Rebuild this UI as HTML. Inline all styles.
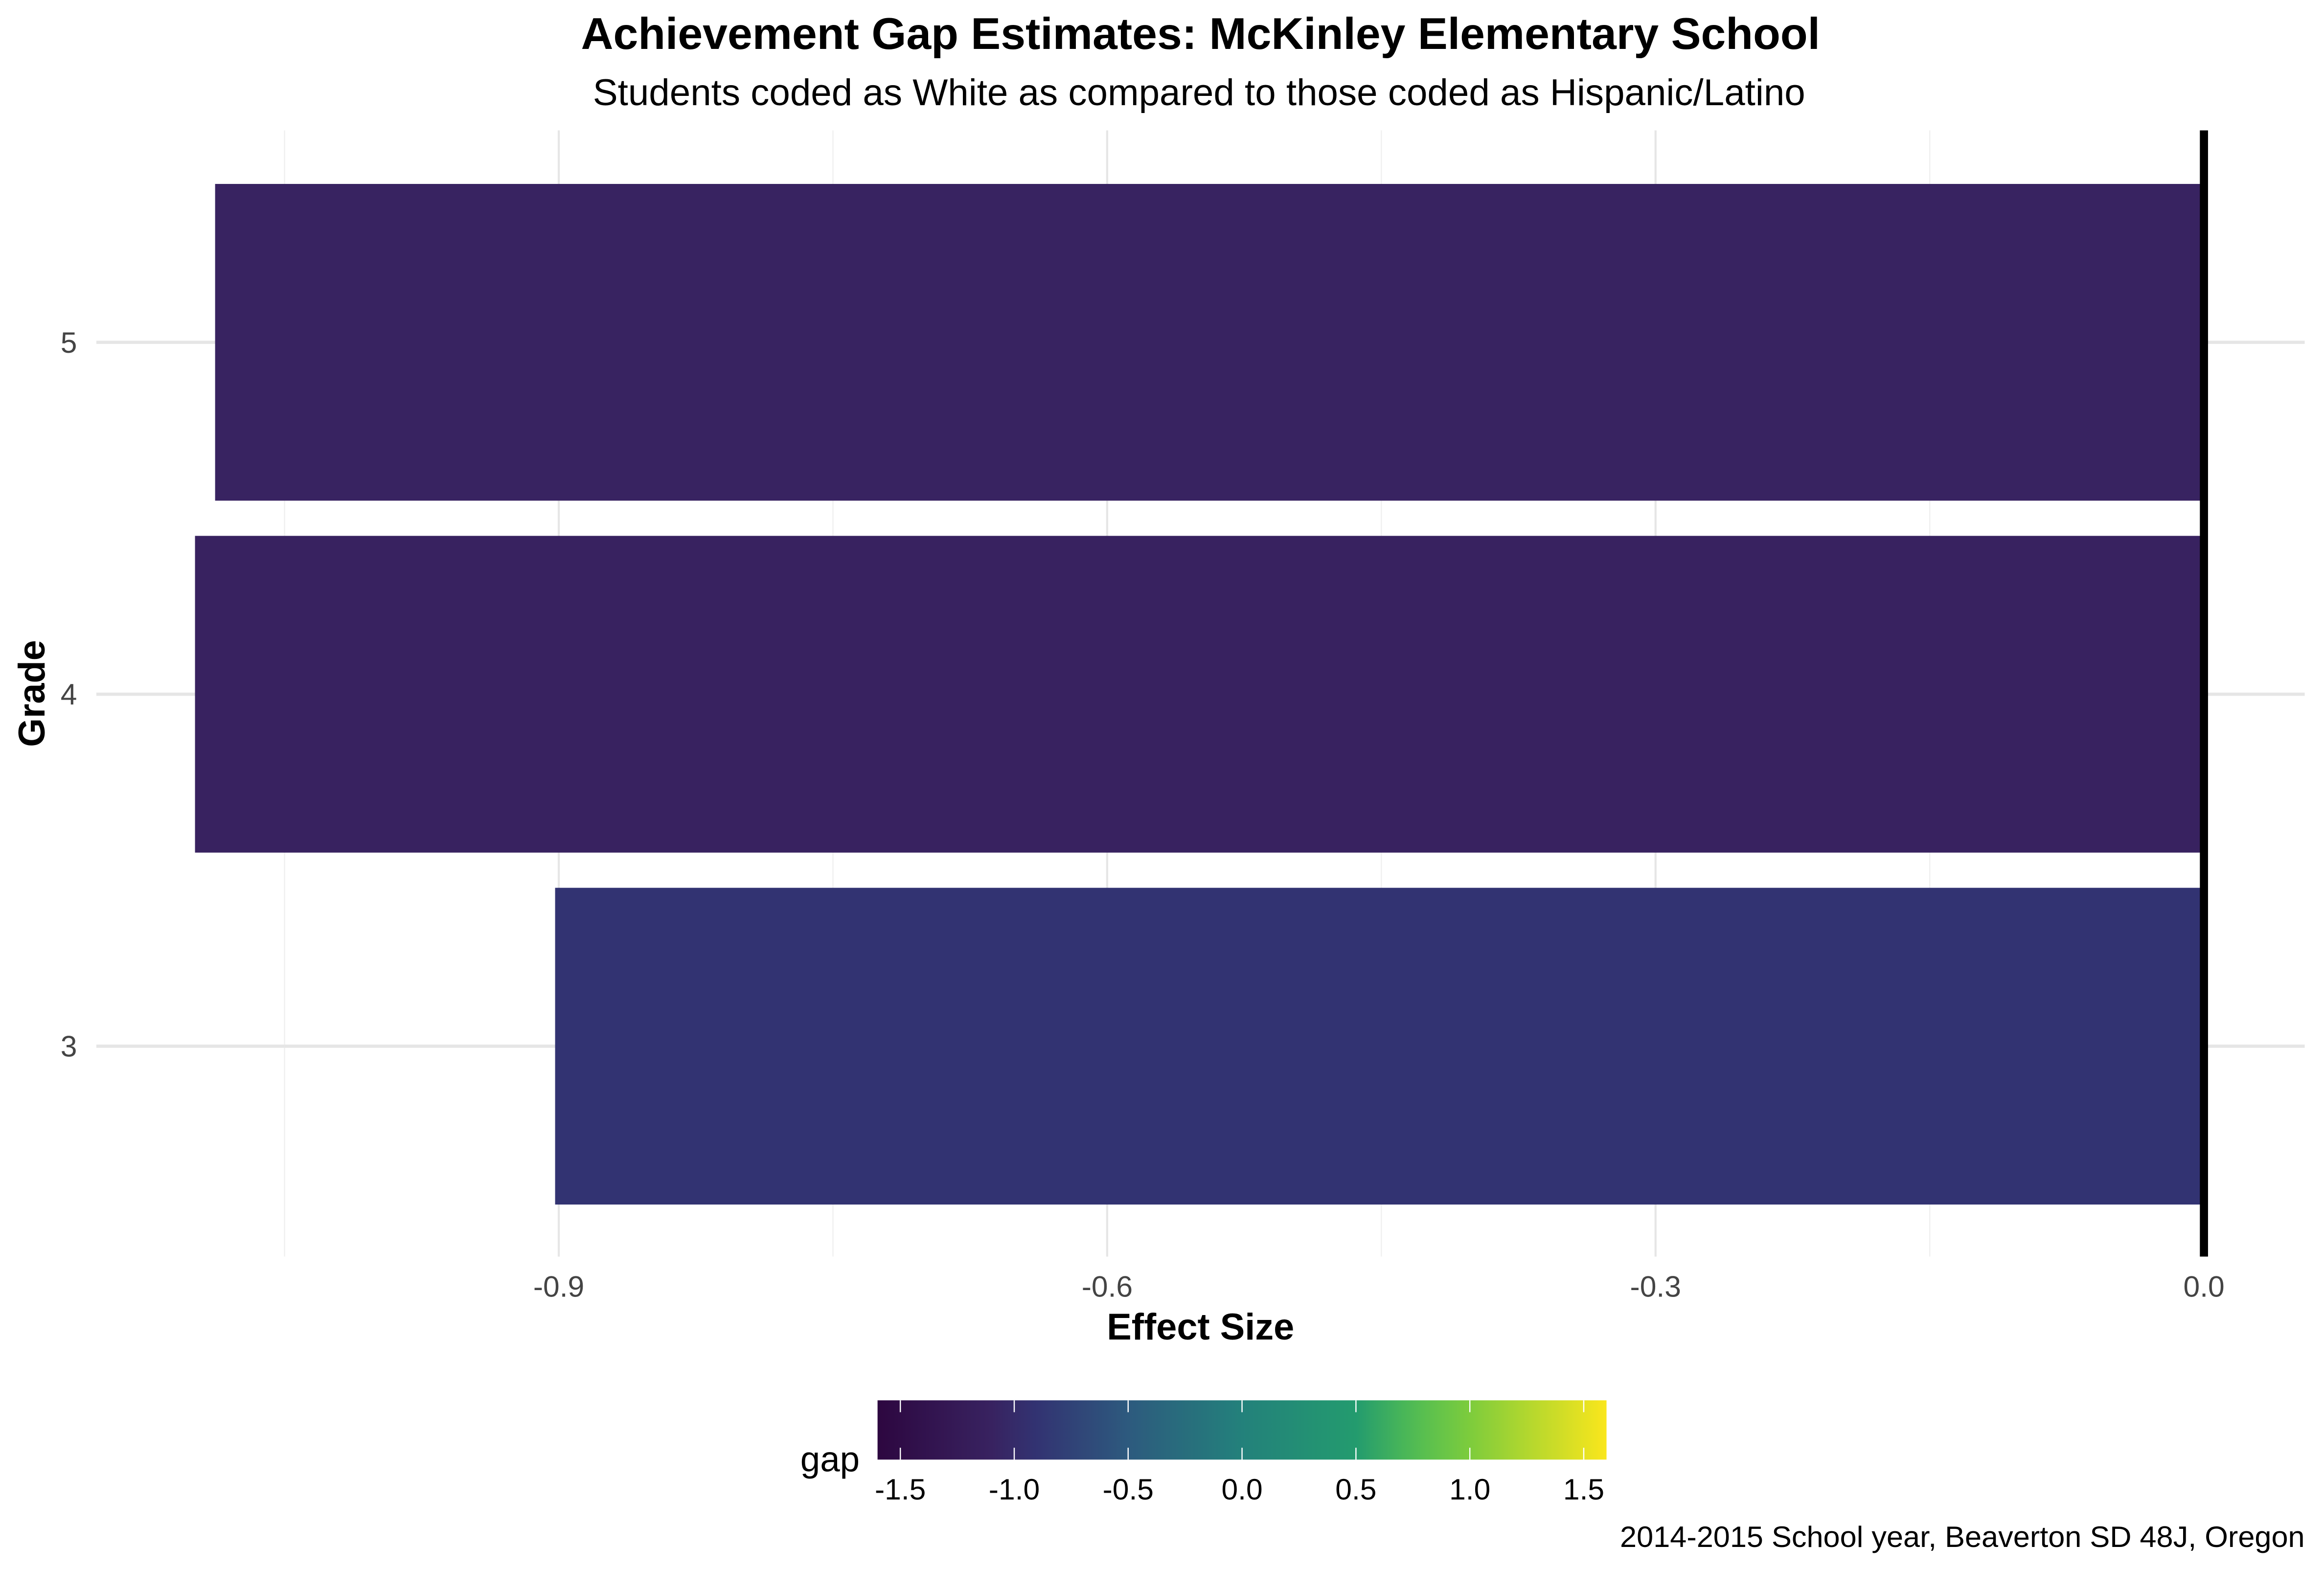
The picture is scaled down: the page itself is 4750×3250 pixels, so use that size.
<!DOCTYPE html>
<html><head><meta charset="utf-8"><style>
html,body{margin:0;padding:0;background:#fff;}
svg{display:block;font-family:"Liberation Sans",Arial,sans-serif;}
</style></head><body>
<svg id="chart" width="4750" height="3250" viewBox="0 0 1568 1073" preserveAspectRatio="none" xmlns="http://www.w3.org/2000/svg">
<rect x="0" y="0" width="1568" height="1073" fill="#fff"/>
<text x="810" y="33" font-size="30" font-weight="bold" text-anchor="middle" textLength="836" lengthAdjust="spacingAndGlyphs">Achievement Gap Estimates: McKinley Elementary School</text>
<text x="809" y="71" font-size="25" text-anchor="middle" textLength="818" lengthAdjust="spacingAndGlyphs">Students coded as White as compared to those coded as Hispanic/Latino</text>
<g id="grid"></g>
<g id="bars"></g>
<g id="axes"></g>
<text x="810" y="904" font-size="25" font-weight="bold" text-anchor="middle">Effect Size</text>
<text x="30" y="468" font-size="25" font-weight="bold" text-anchor="middle" transform="rotate(-90 30 468)">Grade</text>
<g id="legend"></g>
<text x="1555" y="1044" font-size="20" text-anchor="end" textLength="462" lengthAdjust="spacingAndGlyphs">2014-2015 School year, Beaverton SD 48J, Oregon</text>
</svg>
<script>
const grades = ["3", "4", "5"];
const gaps = [-0.902, -1.099, -1.088];
const xTicks = [-0.9, -0.6, -0.3, 0.0];
const xTickLabels = ["-0.9", "-0.6", "-0.3", "0.0"];
const xMinor = [-1.05, -0.75, -0.45, -0.15];
const legendTicks = [-1.5, -1.0, -0.5, 0.0, 0.5, 1.0, 1.5];
const legendTickLabels = ["-1.5", "-1.0", "-0.5", "0.0", "0.5", "1.0", "1.5"];

const NS = "http://www.w3.org/2000/svg";
function mk(tag, attrs, parent){const e=document.createElementNS(NS,tag);for(const k in attrs)e.setAttribute(k,attrs[k]);parent.appendChild(e);return e;}
const X0 = 1487, XPER = 370/0.3;
function xScale(v){return X0 + v*XPER;}
const band = 237.5;
function yScale(i){return 231 + (grades.length - 1 - i)*band;}
const stops = [[-1.6,[45,7,64]],[-1.1,[56,34,96]],[-0.9,[50,51,114]],[-0.5,[45,90,126]],[0,[35,129,123]],[0.5,[35,155,110]],[0.75,[80,188,84]],[1.0,[125,204,60]],[1.6,[250,230,28]]];
function color(v){
  for(let i=0;i<stops.length-1;i++){const a=stops[i],b=stops[i+1];
    if(v<=b[0]||i===stops.length-2){let t=(v-a[0])/(b[0]-a[0]);t=Math.max(0,Math.min(1,t));
      const c=a[1].map((c0,j)=>Math.round(c0+(b[1][j]-c0)*t));return `rgb(${c.join(',')})`;}}
}
const grid=document.getElementById('grid'), bars=document.getElementById('bars'), axes=document.getElementById('axes'), legend=document.getElementById('legend');
xMinor.forEach(v=>{const l=mk('line',{x1:xScale(v),x2:xScale(v),y1:88,y2:848,stroke:'#f0f0f0','stroke-width':0.8},grid);

});
xTicks.forEach((v,i)=>{const l=mk('line',{x1:xScale(v),x2:xScale(v),y1:88,y2:848,stroke:'#e6e6e6','stroke-width':1.4},grid);


const t=mk('text',{x:xScale(v),y:875,'font-size':20,fill:'#444','text-anchor':'middle'},axes);t.textContent=xTickLabels[i];

});
grades.forEach((g,i)=>{const y=yScale(i);
const l=mk('line',{x1:65,x2:1555,y1:y,y2:y,stroke:'#e6e6e6','stroke-width':2.2},grid);


const t=mk('text',{x:52,y:y+7,'font-size':20,fill:'#444','text-anchor':'end'},axes);t.textContent=g;


const v=gaps[i],x1=xScale(v),x2=xScale(0);
const r=mk('rect',{x:Math.min(x1,x2),y:y-band*0.45,width:Math.abs(x2-x1),height:band*0.9,fill:color(v)},bars);

});
const z=mk('line',{x1:xScale(0),x2:xScale(0),y1:88,y2:848,stroke:'#000','stroke-width':5.5},axes);


// legend
const LX0=838, LPER=153.7, lyTop=945, lyBot=985;
function lx(v){return LX0+v*LPER;}
const defs=mk('defs',{},legend);
const grad=mk('linearGradient',{id:'vir',x1:0,x2:1,y1:0,y2:0},defs);
for(let k=0;k<=32;k++){const v=-1.6+3.2*k/32;mk('stop',{offset:(k/32),'stop-color':color(v)},grad);}
const lb=mk('rect',{x:lx(-1.6),y:lyTop,width:lx(1.6)-lx(-1.6),height:lyBot-lyTop,fill:'url(#vir)'},legend);


legendTicks.forEach((v,i)=>{
mk('line',{x1:lx(v),x2:lx(v),y1:lyTop,y2:lyTop+8,stroke:'#fff','stroke-width':0.8},legend);
mk('line',{x1:lx(v),x2:lx(v),y1:lyBot-8,y2:lyBot,stroke:'#fff','stroke-width':0.8},legend);
const t=mk('text',{x:lx(v),y:1012,'font-size':20,fill:'#000','text-anchor':'middle'},legend);t.textContent=legendTickLabels[i];

});
const gt=mk('text',{x:560,y:993,'font-size':24,'text-anchor':'middle'},legend);gt.textContent='gap';


</script>
</body></html>
